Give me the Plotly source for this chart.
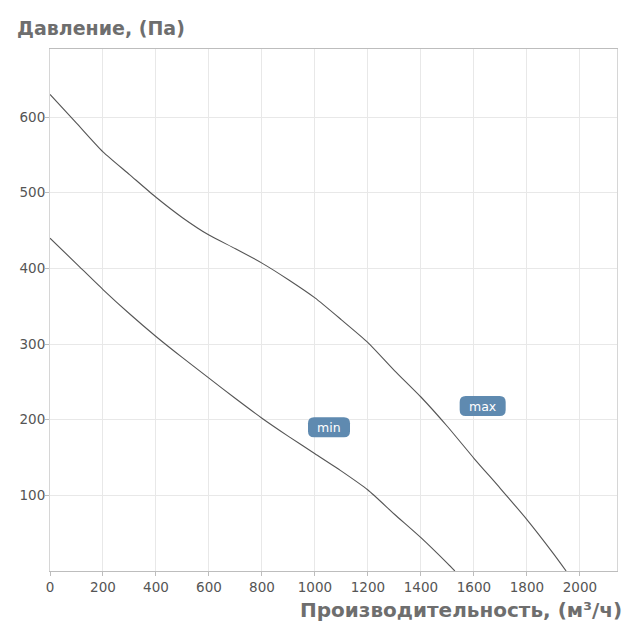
import plotly.graph_objects as go

# Data
flow_max = [0, 100, 200, 300, 400, 500, 600, 700, 800, 900, 1000, 1100, 1200, 1300, 1400, 1500, 1600, 1700, 1800, 1900, 1948]
pres_max = [630, 592, 554, 524, 494, 467, 444, 426, 407, 385, 361, 332, 302, 265, 230, 191, 149, 109, 68, 23, 0]

flow_min = [0, 100, 200, 300, 400, 500, 600, 700, 800, 900, 1000, 1100, 1200, 1300, 1400, 1500, 1528]
pres_min = [440, 406, 372, 340, 310, 282, 255, 228, 202, 178, 155, 132, 107, 75, 44, 10, 0]

label_text = ["min", "max"]
label_x = [1053, 1633]
label_y = [190, 218]

x_ticks = [0, 200, 400, 600, 800, 1000, 1200, 1400, 1600, 1800, 2000]
y_ticks = [100, 200, 300, 400, 500, 600]

LINE = "#555555"
BADGE = "#5f8ab0"
TITLE = "#6e6e6e"
TICK = "#555555"

fig = go.Figure()
fig.add_trace(go.Scatter(x=flow_max, y=pres_max, mode="lines", line_shape="spline",
                         line=dict(color=LINE, width=1.1, smoothing=0.6), hoverinfo="skip", showlegend=False))
fig.add_trace(go.Scatter(x=flow_min, y=pres_min, mode="lines", line_shape="spline",
                         line=dict(color=LINE, width=1.1, smoothing=0.6), hoverinfo="skip", showlegend=False))


def rounded_rect(w, h, r):
    hw, hh = w / 2, h / 2
    return (f"M {-hw + r},{-hh} L {hw - r},{-hh} Q {hw},{-hh} {hw},{-hh + r} "
            f"L {hw},{hh - r} Q {hw},{hh} {hw - r},{hh} L {-hw + r},{hh} "
            f"Q {-hw},{hh} {-hw},{hh - r} L {-hw},{-hh + r} Q {-hw},{-hh} {-hw + r},{-hh} Z")


shapes = []
annotations = []
for t, lx, ly in zip(label_text, label_x, label_y):
    w = 42 if t == "min" else 46
    shapes.append(dict(type="path", xref="x", yref="y", xsizemode="pixel", ysizemode="pixel",
                       xanchor=lx, yanchor=ly, path=rounded_rect(w, 20, 6),
                       fillcolor=BADGE, line=dict(width=0), layer="above"))
    annotations.append(dict(x=lx, y=ly, xref="x", yref="y", text=t, showarrow=False,
                            font=dict(family="DejaVu Sans", size=12.5, color="white"),
                            xanchor="center", yanchor="middle"))

annotations.append(dict(text="Производительность, (м³/ч)", xref="paper", yref="paper",
                        x=1.012, y=-0.074, xanchor="right", yanchor="middle", showarrow=False,
                        font=dict(family="DejaVu Sans", size=20, color=TITLE, weight="bold")))
annotations.append(dict(text="Давление, (Па)", xref="paper", yref="paper",
                        x=-0.061, y=1.041, xanchor="left", yanchor="middle", showarrow=False,
                        font=dict(family="DejaVu Sans", size=19, color=TITLE, weight="bold")))

# page has an 8px body margin, so the figure is offset by 8px
fig.update_layout(
    width=622, height=622,
    margin=dict(l=41, r=12, t=41, b=59),
    paper_bgcolor="white", plot_bgcolor="white",
    shapes=shapes, annotations=annotations,
)
fig.update_xaxes(range=[0, 2140], tickvals=x_ticks, showgrid=True, gridcolor="#e8e8e8", gridwidth=1,
                 showline=True, linecolor="#bdbdbd", linewidth=1, mirror=True,
                 ticks="outside", ticklen=4, tickcolor="#bdbdbd",
                 tickfont=dict(family="DejaVu Sans", size=13.5, color=TICK), zeroline=False)
fig.update_yaxes(range=[0, 690], tickvals=y_ticks, showgrid=True, gridcolor="#e8e8e8", gridwidth=1,
                 showline=True, linecolor="#d6d6d6", linewidth=1, mirror=True,
                 ticks="outside", ticklen=4, tickcolor="#bdbdbd", ticklabelstandoff=-3,
                 tickfont=dict(family="DejaVu Sans", size=13.5, color=TICK), zeroline=False)

fig.write_html("out.html")
